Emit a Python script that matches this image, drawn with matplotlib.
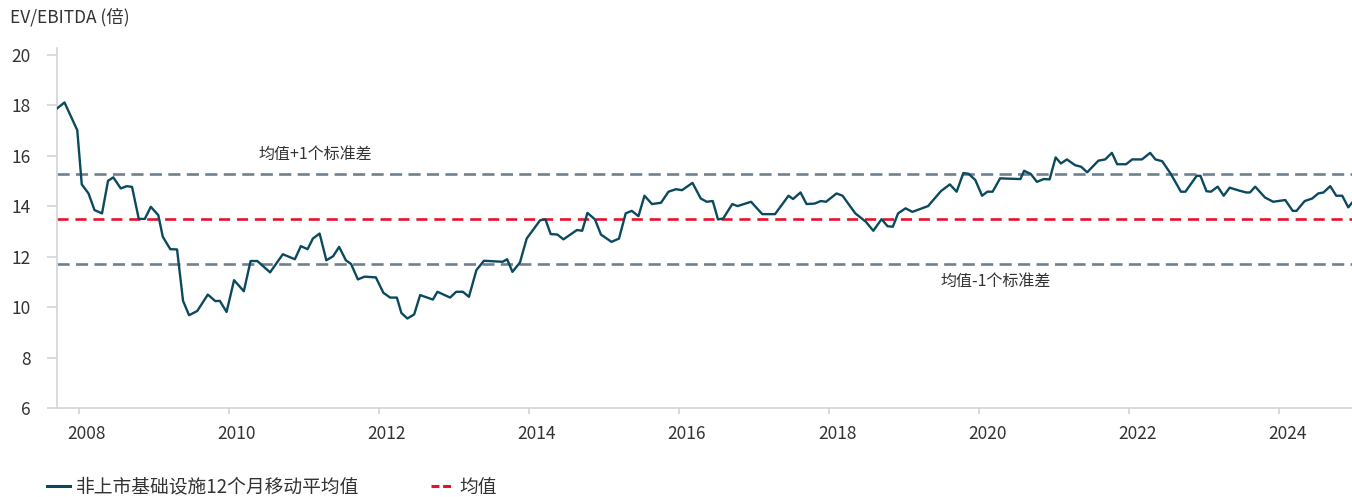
import matplotlib
matplotlib.use("Agg")
import matplotlib.pyplot as plt
from matplotlib.lines import Line2D
from matplotlib.transforms import ScaledTranslation

plt.rcParams['font.family'] = ['Noto Sans CJK SC', 'DejaVu Sans']

# 12-month moving average EV/EBITDA (decimal year, multiple)
years = [
    2007.71, 2007.81, 2007.98, 2008.04, 2008.13, 2008.21, 2008.31, 2008.39, 2008.46, 2008.56,
    2008.64, 2008.71, 2008.80, 2008.88, 2008.96, 2009.06, 2009.12, 2009.22, 2009.31, 2009.39,
    2009.47, 2009.58, 2009.72, 2009.82, 2009.88, 2009.97, 2010.07, 2010.20, 2010.29, 2010.38,
    2010.55, 2010.72, 2010.88, 2010.96, 2011.05, 2011.12, 2011.21, 2011.30, 2011.39, 2011.47,
    2011.56, 2011.63, 2011.72, 2011.81, 2011.96, 2012.06, 2012.15, 2012.24, 2012.30, 2012.38,
    2012.47, 2012.55, 2012.72, 2012.78, 2012.95, 2013.03, 2013.12, 2013.20, 2013.30, 2013.40,
    2013.65, 2013.71, 2013.78, 2013.88, 2013.97, 2014.15, 2014.22, 2014.29, 2014.38, 2014.46,
    2014.64, 2014.71, 2014.78, 2014.88, 2014.96, 2015.10, 2015.20, 2015.29, 2015.37, 2015.46,
    2015.54, 2015.64, 2015.76, 2015.86, 2015.96, 2016.04, 2016.18, 2016.29, 2016.37, 2016.45,
    2016.52, 2016.59, 2016.71, 2016.78, 2016.96, 2017.11, 2017.28, 2017.46, 2017.52, 2017.62,
    2017.70, 2017.81, 2017.89, 2017.96, 2018.10, 2018.18, 2018.35, 2018.49, 2018.59, 2018.70,
    2018.78, 2018.85, 2018.92, 2019.02, 2019.11, 2019.32, 2019.49, 2019.61, 2019.70, 2019.79,
    2019.86, 2019.95, 2020.04, 2020.11, 2020.18, 2020.28, 2020.55, 2020.60, 2020.69, 2020.77,
    2020.86, 2020.94, 2021.02, 2021.09, 2021.17, 2021.28, 2021.36, 2021.44, 2021.59, 2021.68,
    2021.77, 2021.84, 2021.96, 2022.04, 2022.17, 2022.28, 2022.35, 2022.44, 2022.55, 2022.69,
    2022.75, 2022.90, 2022.95, 2023.03, 2023.09, 2023.18, 2023.26, 2023.34, 2023.47, 2023.56,
    2023.61, 2023.68, 2023.81, 2023.92, 2024.08, 2024.18, 2024.23, 2024.34, 2024.44, 2024.52,
    2024.59, 2024.68, 2024.76, 2024.84, 2024.92, 2024.97,
]
ev_ebitda = [
    17.88, 18.12, 17.02, 14.87, 14.51, 13.85, 13.72, 15.01, 15.15, 14.71,
    14.80, 14.77, 13.50, 13.50, 13.98, 13.65, 12.79, 12.30, 12.29, 10.25,
    9.68, 9.85, 10.50, 10.24, 10.25, 9.81, 11.07, 10.63, 11.83, 11.83,
    11.38, 12.10, 11.90, 12.42, 12.30, 12.72, 12.92, 11.86, 12.02, 12.39,
    11.86, 11.71, 11.10, 11.21, 11.18, 10.57, 10.38, 10.38, 9.77, 9.55,
    9.71, 10.48, 10.30, 10.61, 10.38, 10.61, 10.61, 10.41, 11.47, 11.84,
    11.80, 11.90, 11.40, 11.77, 12.72, 13.45, 13.48, 12.90, 12.88, 12.69,
    13.06, 13.03, 13.74, 13.48, 12.88, 12.59, 12.72, 13.72, 13.82, 13.61,
    14.42, 14.09, 14.14, 14.58, 14.68, 14.64, 14.93, 14.31, 14.18, 14.21,
    13.48, 13.52, 14.09, 14.01, 14.18, 13.69, 13.69, 14.42, 14.29, 14.55,
    14.09, 14.11, 14.21, 14.18, 14.51, 14.42, 13.72, 13.39, 13.03, 13.49,
    13.21, 13.19, 13.72, 13.92, 13.78, 14.01, 14.60, 14.87, 14.58, 15.32,
    15.29, 15.04, 14.42, 14.58, 14.58, 15.11, 15.08, 15.41, 15.28, 14.97,
    15.08, 15.07, 15.94, 15.70, 15.86, 15.63, 15.57, 15.35, 15.81, 15.86,
    16.12, 15.67, 15.67, 15.86, 15.86, 16.12, 15.86, 15.79, 15.31, 14.58,
    14.58, 15.21, 15.21, 14.60, 14.58, 14.78, 14.42, 14.74, 14.62, 14.55,
    14.55, 14.78, 14.35, 14.18, 14.25, 13.82, 13.82, 14.21, 14.31, 14.51,
    14.55, 14.80, 14.42, 14.42, 13.96, 14.14,
]

mean_value = 13.5
upper_band = 15.3
lower_band = 11.7

x_ticks = [2008, 2010, 2012, 2014, 2016, 2018, 2020, 2022, 2024]
y_ticks = [6, 8, 10, 12, 14, 16, 18, 20]

line_color = '#0b4a5e'
red = '#e8112d'
band_gray = '#6e8191'
axis_gray = '#d4d4d4'
text_color = '#333333'

fig = plt.figure(figsize=(13.52, 4.97), dpi=100)
ax = fig.add_axes([57 / 1352, 1 - 408 / 497, 1 - 57 / 1352, (408 - 48) / 497])

ax.axhline(upper_band, color=band_gray, lw=1.9, dashes=(4.6, 2.4), zorder=1)
ax.axhline(lower_band, color=band_gray, lw=1.9, dashes=(4.6, 2.4), zorder=1)
ax.axhline(mean_value, color=red, lw=1.9, dashes=(4.2, 2.6), zorder=2)
ax.plot(years, ev_ebitda, color=line_color, lw=1.7, zorder=3,
        solid_joinstyle='round')

ax.text(2010.4, upper_band + 0.4, '均值+1个标准差', fontsize=11.5,
        color=text_color, ha='left', va='bottom')
ax.text(2019.48, lower_band - 0.35, '均值-1个标准差', fontsize=11.5,
        color=text_color, ha='left', va='top')

ax.set_xlim(2007.71, 2024.97)
ax.set_ylim(6, 20.28)
ax.set_xticks(x_ticks)
ax.set_xticklabels([str(y) for y in x_ticks])
ax.set_yticks(y_ticks)

for side in ['top', 'right']:
    ax.spines[side].set_visible(False)
for side in ['left', 'bottom']:
    ax.spines[side].set_color(axis_gray)
    ax.spines[side].set_linewidth(1.2)

ax.tick_params(axis='x', length=4, width=1.2, color=axis_gray, pad=8,
               labelsize=12.5, labelcolor=text_color)
ax.tick_params(axis='y', length=7, width=1.2, color=axis_gray, pad=12,
               labelsize=12.5, labelcolor=text_color)

# year labels sit a little to the right of their ticks
shift = ScaledTranslation(8 / 100, 0, fig.dpi_scale_trans)
for lbl in ax.get_xticklabels():
    lbl.set_transform(lbl.get_transform() + shift)

fig.text(10 / 1352, 1 - 17 / 497, 'EV/EBITDA (倍)', fontsize=12.5,
         color=text_color, ha='left', va='center')

handles = [
    Line2D([], [], color=line_color, lw=2.2),
    Line2D([], [], color=red, lw=2.2, dashes=(2.6, 1.2)),
]
fig.legend(handles, ['非上市基础设施12个月移动平均值', '均值'],
           loc='center left', bbox_to_anchor=(47 / 1352, 1 - 487 / 497),
           ncol=2, frameon=False, fontsize=13.5, handlelength=1.25,
           handletextpad=0.3, columnspacing=3.8, labelcolor=text_color,
           borderaxespad=0, borderpad=0)

fig.savefig('out.png', dpi=100)
